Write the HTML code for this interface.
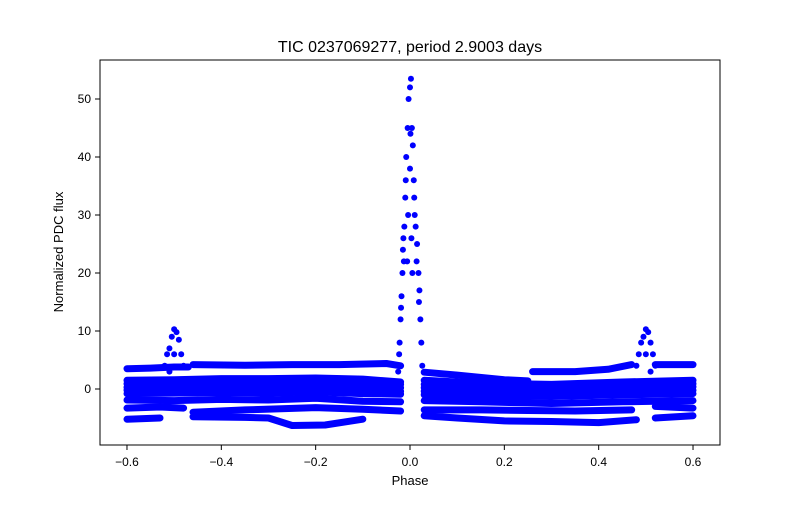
<!DOCTYPE html>
<html><head><meta charset="utf-8"><style>
body{margin:0;background:#fff}
svg text{font-family:"Liberation Sans","DejaVu Sans",sans-serif;fill:#000}
</style></head><body>
<svg id="chart" width="800" height="500" viewBox="0 0 800 500" xmlns="http://www.w3.org/2000/svg">
<rect width="800" height="500" fill="#fff"/>
<g id="marks"></g>
<rect x="100" y="60" width="620" height="385" fill="none" stroke="#000" stroke-width="1"/>
<g id="axes"></g>
<text x="410" y="52" font-size="16" text-anchor="middle">TIC 0237069277, period 2.9003 days</text>
<text x="410" y="485" font-size="13" text-anchor="middle">Phase</text>
<text transform="translate(63,252) rotate(-90)" font-size="13" text-anchor="middle">Normalized PDC flux</text>
</svg>
<script>
const xTicks=[-0.6,-0.4,-0.2,0.0,0.2,0.4,0.6];
const xTickLabels=["−0.6","−0.4","−0.2","0.0","0.2","0.4","0.6"];
const yTicks=[0,10,20,30,40,50];
const yTickLabels=["0","10","20","30","40","50"];
// horizontal bands of points (phase, flux)
const bandPhases=[
 [-0.6,-0.55,-0.5,-0.47],[-0.46,-0.35,-0.25,-0.15,-0.05,-0.02],
 [-0.6,-0.5,-0.4,-0.3,-0.2,-0.1,-0.02],[-0.6,-0.5,-0.4,-0.3,-0.2,-0.1,-0.02],
 [-0.6,-0.5,-0.4,-0.3,-0.2,-0.1,-0.02],[-0.6,-0.5,-0.4,-0.3,-0.2,-0.1,-0.02],
 [-0.6,-0.5,-0.4,-0.3,-0.2,-0.1,-0.02],[-0.6,-0.5,-0.4,-0.3,-0.2,-0.1,-0.02],
 [-0.6,-0.53,-0.48],[-0.46,-0.35,-0.2,-0.1,-0.02],
 [-0.6,-0.53],[-0.46,-0.35,-0.3,-0.25,-0.18,-0.1],
 [0.03,0.1,0.2,0.25],[0.26,0.35,0.42,0.47],[0.52,0.6],
 [0.03,0.15,0.3,0.45,0.6],[0.03,0.15,0.3,0.45,0.6],[0.03,0.15,0.3,0.45,0.6],[0.03,0.15,0.3,0.45,0.6],
 [0.03,0.15,0.3,0.45,0.6],[0.03,0.15,0.3,0.45,0.6],
 [0.03,0.15,0.25,0.35,0.47],[0.03,0.1,0.2,0.3,0.4,0.48],[0.52,0.6],[0.52,0.6]
];
const bandFlux=[
 [3.5,3.6,3.8,3.8],[4.2,4.1,4.2,4.2,4.4,4.0],
 [1.5,1.6,1.8,1.8,1.9,1.7,1.2],[0.3,0.4,0.5,0.4,0.5,0.3,0.2],
 [-0.8,-0.7,-0.6,-0.7,-0.5,-0.8,-0.9],[-1.9,-2.0,-1.8,-1.9,-1.6,-2.1,-2.2],
 [0.9,1.0,1.1,1.0,1.2,1.0,0.8],[-0.2,-0.1,0.0,-0.1,0.0,-0.3,-0.4],
 [-3.3,-3.1,-3.3],[-4.0,-3.6,-3.2,-3.5,-3.8],
 [-5.2,-5.0],[-4.8,-4.9,-5.0,-6.3,-6.2,-5.2],
 [2.9,2.4,1.6,1.4],[3.0,3.0,3.4,4.2],[4.2,4.2],
 [1.5,1.0,0.8,1.2,1.5],[0.2,0.0,-0.2,0.2,0.4],[-1.0,-1.2,-1.3,-1.0,-0.8],[-2.0,-2.2,-2.5,-2.2,-2.0],
 [0.8,0.5,0.3,0.7,0.9],[-0.4,-0.6,-0.8,-0.4,-0.2],
 [-3.6,-3.6,-3.7,-3.8,-3.6],[-4.6,-5.0,-5.5,-5.6,-5.8,-5.3],[-3.0,-3.3],[-5.0,-4.6]
];
// peak near phase 0 and bumps near ±0.5
const peakPhase=[-0.025,-0.023,-0.022,-0.02,-0.018,-0.016,-0.015,-0.013,-0.012,-0.01,-0.008,-0.006,-0.005,-0.004,-0.003,0.0,0.0,0.001,0.002,0.003,0.004,0.005,0.006,0.008,0.01,0.012,0.015,0.018,0.02,0.022,0.024,0.026,-0.019,-0.014,-0.009,0.009,0.014,0.019,-0.52,-0.515,-0.51,-0.505,-0.5,-0.495,-0.49,-0.485,-0.48,-0.5,-0.51,0.48,0.485,0.49,0.495,0.5,0.505,0.51,0.515,0.52,0.5,0.51];
const peakFlux=[3,6,8,12,16,20,24,22,28,33,40,22,45,30,50,52,38,44,53.5,26,45,20,42,36,30,28,25,20,17,12,8,4,14,26,36,33,22,15,4,6,7,9,10.3,9.8,8.5,6,4,6,3,4,6,8,9,10.3,9.8,8,6,4,6,3];
const X=v=>410+(v)*471.7, Y=v=>389-v*5.8;
const NS="http://www.w3.org/2000/svg";
const marks=document.getElementById('marks'), axes=document.getElementById('axes');
function mk(t,a,p){const e=document.createElementNS(NS,t);for(const k in a)e.setAttribute(k,a[k]);p.appendChild(e);return e;}
bandPhases.forEach((ph,i)=>{
 const pts=ph.map((p,j)=>X(p).toFixed(1)+','+Y(bandFlux[i][j]).toFixed(1)).join(' ');
 const l=mk('polyline',{points:pts,fill:'none',stroke:'#0000ff','stroke-width':7,'stroke-linecap':'round','stroke-linejoin':'round'},marks);
 
 
});
peakPhase.forEach((p,i)=>{
 const c=mk('circle',{cx:X(p),cy:Y(peakFlux[i]),r:3,fill:'#0000ff'},marks);
 
 
});
xTicks.forEach((t,i)=>{
 const x=X(t);
 const l=mk('line',{x1:x,x2:x,y1:445,y2:450,stroke:'#000'},axes);
 
 
 const tx=mk('text',{x:x,y:466,'font-size':12,'text-anchor':'middle'},axes);
 tx.textContent=xTickLabels[i];
 
 
});
yTicks.forEach((t,i)=>{
 const y=Y(t);
 const l=mk('line',{x1:95,x2:100,y1:y,y2:y,stroke:'#000'},axes);
 
 
 const tx=mk('text',{x:91,y:y+4,'font-size':12,'text-anchor':'end'},axes);
 tx.textContent=yTickLabels[i];
 
 
});
</script>
</body></html>
